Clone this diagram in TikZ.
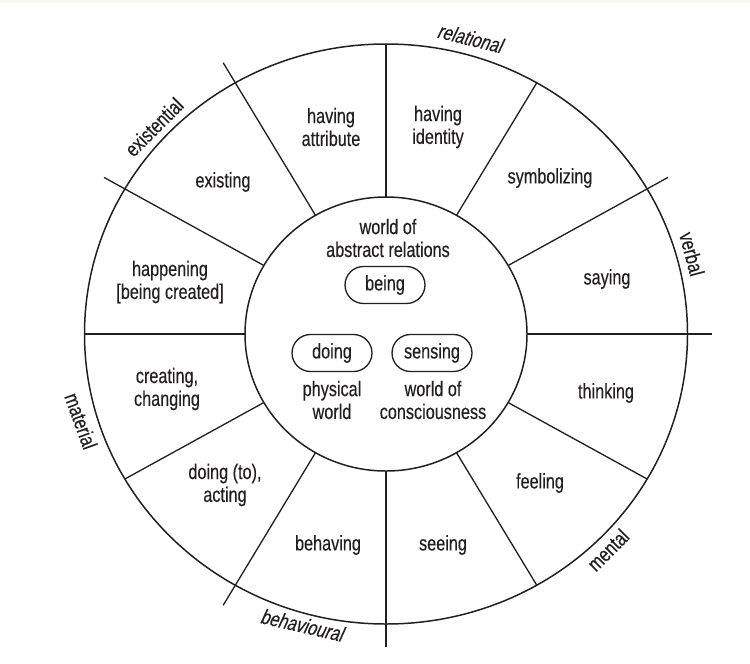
\documentclass[tikz,border=0pt]{standalone}
\usepackage{fontspec}
\setmainfont[FakeStretch=0.77,FakeBold=0.3]{Liberation Sans}
\newfontfamily\slantfont[FakeStretch=0.77,FakeBold=0.3,FakeSlant=0.2]{Liberation Sans}
\definecolor{ink}{HTML}{231F20}
\definecolor{paleband}{HTML}{FBF8EA}
\begin{document}
\begin{tikzpicture}[x=0.02cm,y=-0.02cm,
  every node/.style={text=ink},
  lbl/.style={align=center,font=\fontsize{12}{13}\selectfont,inner sep=0pt},
  cat/.style={font=\fontsize{12}{13}\selectfont,inner sep=0pt},
  catit/.style={font=\slantfont\fontsize{12}{13}\selectfont,inner sep=0pt},
  pill/.style={draw=ink,line width=0.75pt,rounded corners=0.37cm,minimum width=1.6cm,minimum height=0.74cm,inner sep=0pt,font=\fontsize{12}{13}\selectfont},
  rim/.style={draw=ink,line width=0.85pt},
  spoke/.style={draw=ink,line width=0.75pt}]
\useasboundingbox (0,0) rectangle (750,663);
\fill[paleband] (0,0) rectangle (750,3);
% circles
\draw[rim] (386,334) ellipse [x radius=301.5, y radius=290];
\draw[rim] (386,334) ellipse [x radius=141, y radius=137];
% spokes
\foreach \a/\f in {90/1, 60/1, 30/1.08, 0/1.08, -30/1, -60/1, -90/1.08, -120/1.08, -150/1, 180/1, 150/1.08, 120/1.08}{
  \draw[spoke] ({386+141*cos(\a)},{334-137*sin(\a)}) -- ({386+\f*301.5*cos(\a)},{334-\f*290*sin(\a)});
}
% segment labels
\node[lbl] (attr) at (331,127) {having\\attribute};
\node[lbl] (ident) at (438,127) {having\\identity};
\node[lbl] (symb) at (550,178) {symbolizing};
\node[lbl] (say) at (607,279) {saying};
\node[lbl] (think) at (606,393) {thinking};
\node[lbl] (feel) at (540,483) {feeling};
\node[lbl] (see) at (443,545) {seeing};
\node[lbl] (behave) at (328,545) {behaving};
\node[lbl] (doto) at (225,485) {doing (to),\\acting};
\node[lbl] (create) at (167,389) {creating,\\changing};
\node[lbl] (happen) at (170,282) {happening\\{[}being created{]}};
\node[lbl] (exist) at (223,182) {existing};
% centre
\node[lbl] (abstract) at (388,238) {world of\\abstract relations};
\node[pill] (being) at (385,285) {being};
\node[pill] (doing) at (332,353) {doing};
\node[pill] (sensing) at (432,353) {sensing};
\node[lbl] (physical) at (332,400) {physical\\world};
\node[lbl] (conscious) at (433,400) {world of\\consciousness};
% category labels
\node[catit,rotate=-14] (relational) at (470,38) {relational};
\node[cat,rotate=-75] (verbal) at (692,254) {verbal};
\node[cat,rotate=45] (mental) at (608,550) {mental};
\node[catit,rotate=-13] (behavioural) at (302,625) {behavioural};
\node[cat,rotate=-70] (material) at (81,421) {material};
\node[cat,rotate=45] (existential) at (154,127) {existential};
\end{tikzpicture}
\end{document}
